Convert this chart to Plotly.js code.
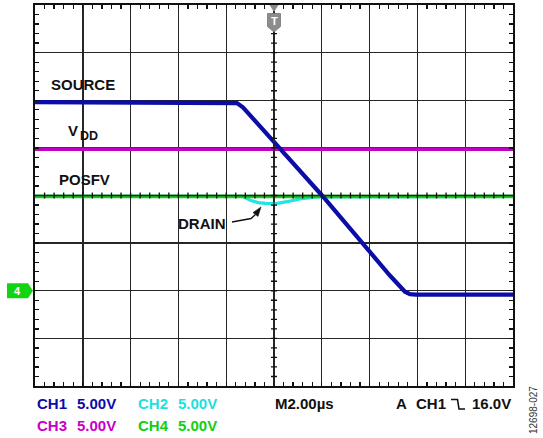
<!DOCTYPE html>
<html><head><meta charset="utf-8">
<script src="https://cdn.plot.ly/plotly-3.0.1.min.js"></script>
<style>html,body{margin:0;padding:0;background:#fff}#chart{width:543px;height:438px}</style>
</head><body><div id="chart"></div>
<script>
// Time in µs (2 µs/div, trigger at 0); vertical position in screen divisions (5 V/div on all channels)
const sourceT = [-10, -1.76, -1.55, -1.30, 2.01, 4.85, 5.27, 5.48, 5.69, 5.94, 10];
const sourceV = [1.96, 1.96, 1.94, 1.85, 0, -1.68, -1.91, -2.02, -2.07, -2.08, -2.08];
const drainT = [-10, -1.30, -1.00, -0.67, -0.25, 0.08, 0.54, 1.09, 1.80, 10];
const drainV = [-0.02, -0.02, -0.10, -0.15, -0.17, -0.17, -0.13, -0.07, -0.03, -0.02];
const vddT = [-10, 10];
const vddV = [0.97, 0.97];
const posfvT = [-10, 10];
const posfvV = [-0.02, -0.02];

const channelNames = ['CH1', 'CH2', 'CH3', 'CH4'];
const channelScales = ['5.00V', '5.00V', '5.00V', '5.00V'];
const channelColors = ['#0c0ca8', '#1ee0e0', '#c800c8', '#10d010'];
const timebaseLabel = 'M2.00µs';
const triggerSource = 'CH1';
const triggerLevel = '16.0V';
const figureId = '12698-027';

// plot-area edges in page pixels
const L = 35, R = 513, T = 5, B = 386;
const W = 543, H = 438;
const px = v => (v - L) / (R - L);
const py = v => (B - v) / (B - T);
// page pixel -> data units (for the hand-drawn arrow)
const toX = p => (p - (L + R) / 2) / ((R - L) / 20);
const toY = p => ((T + B) / 2 - p) / ((B - T) / 8);

const FONT = 'Arial, "Liberation Sans", Helvetica, sans-serif';
const FS = 15;

const traces = [
  {x: drainT, y: drainV, mode: 'lines', line: {color: '#22e4e4', width: 3.2}, hoverinfo: 'skip'},
  {x: posfvT, y: posfvV, mode: 'lines', line: {color: '#10d010', width: 3.6}, hoverinfo: 'skip'},
  {x: vddT, y: vddV, mode: 'lines', line: {color: '#c400c4', width: 3.6}, hoverinfo: 'skip'},
  {x: sourceT, y: sourceV, mode: 'lines', line: {color: '#0c0ca8', width: 4.2}, hoverinfo: 'skip'}
];

const gridCol = '#262626';
const frameAxis = (range, dtick, minor) => ({
  range, dtick, tick0: 0, showgrid: true, gridcolor: gridCol, gridwidth: 1.4,
  showline: true, linecolor: '#111', linewidth: 2.2, mirror: 'ticks',
  ticks: 'inside', ticklen: 4, tickwidth: 1.3, tickcolor: '#111',
  minor: {dtick: minor, ticks: 'inside', ticklen: 4, tickwidth: 1.3, tickcolor: '#111', showgrid: false},
  showticklabels: false, zeroline: false, fixedrange: true
});

const ann = (text, x, y, color, opts) => Object.assign({
  text, x, y, xref: 'paper', yref: 'paper', showarrow: false,
  xanchor: 'left', yanchor: 'middle', font: {family: FONT, size: FS, color}
}, opts || {});

const annotations = [];
// channel scale readouts
const colX = [[35, 75], [136, 176]];
const rowY = [404, 425];
channelNames.forEach((name, i) => {
  const c = colX[i % 2], r = rowY[Math.floor(i / 2)];
  annotations.push(ann('<b>' + name + '</b>', px(c[0]), py(r), channelColors[i]));
  annotations.push(ann('<b>' + channelScales[i] + '</b>', px(c[1]), py(r), channelColors[i]));
});
annotations.push(ann('<b>' + timebaseLabel + '</b>', px(273), py(404), '#111'));
annotations.push(ann('<b>A</b>', px(394), py(404), '#111'));
annotations.push(ann('<b>' + triggerSource + '</b>', px(414), py(404), '#111'));
annotations.push(ann('<b>' + triggerLevel + '</b>', px(513), py(404), '#111', {xanchor: 'right'}));
annotations.push(ann(figureId, px(534), py(410), '#333',
  {xanchor: 'center', textangle: -90, font: {family: FONT, size: 10, color: '#333'}}));

// trace labels inside the graticule
const lab = (text, x, y, size, anchor) => ({text: '<b>' + text + '</b>', x, y, xref: 'x', yref: 'y', showarrow: false,
  xanchor: anchor || 'center', yanchor: 'middle', font: {family: FONT, size: size || FS, color: '#111'}});
annotations.push(lab('SOURCE', -8.0, 2.33));
annotations.push(lab('V', toX(73.3), toY(130.5)));
annotations.push(lab('DD', toX(89.2), toY(135.8), 12.5));
annotations.push(lab('POSFV', -7.95, 0.34));
annotations.push(lab('DRAIN', -3.0, -0.59));
// channel 4 ground marker and trigger marker glyphs
annotations.push(ann('<b>4</b>', px(17.5), -2, '#fff', {xanchor: 'center', yref: 'y', font: {family: FONT, size: 11, color: '#fff'}}));
annotations.push({text: '<b>T</b>', x: 0, y: 3.655, xref: 'x', yref: 'y', showarrow: false,
  xanchor: 'center', yanchor: 'middle', font: {family: FONT, size: 11, color: '#fff'}});

// centre cross-hair: lines drawn above the traces with minor ticks on both sides
let hTicks = '', vTicks = '';
for (let k = -24; k <= 24; k++) { const x = k * 0.4; hTicks += `M ${x},-3 L ${x},3 `; }
for (let k = -19; k <= 19; k++) { const y = k * 0.2; vTicks += `M -3,${y} L 3,${y} `; }

const P = (x, y) => `${toX(x)},${toY(y)}`;
const shapes = [
  {type: 'line', xref: 'x', yref: 'y', x0: -10, x1: 10, y0: 0, y1: 0, layer: 'above', line: {color: gridCol, width: 1.4}},
  {type: 'line', xref: 'x', yref: 'y', x0: 0, x1: 0, y0: -4, y1: 4, layer: 'above', line: {color: gridCol, width: 1.4}},
  {type: 'path', xref: 'x', yref: 'y', ysizemode: 'pixel', yanchor: 0, path: hTicks, layer: 'above', line: {color: '#111', width: 1.3}},
  {type: 'path', xref: 'x', yref: 'y', xsizemode: 'pixel', xanchor: 0, path: vTicks, layer: 'above', line: {color: '#111', width: 1.3}},
  // DRAIN callout arrow
  {type: 'path', xref: 'x', yref: 'y', path: `M ${P(232, 222)} L ${P(251, 218.5)} L ${P(255.5, 214.5)}`,
   line: {color: '#111', width: 1.4}},
  {type: 'path', xref: 'x', yref: 'y', path: `M ${P(261, 207)} L ${P(258, 216.4)} L ${P(253, 212.6)} Z`,
   fillcolor: '#111', line: {color: '#111', width: 0.6}},
  // channel 4 marker
  {type: 'path', xref: 'paper', yref: 'y', xsizemode: 'pixel', ysizemode: 'pixel', xanchor: 0, yanchor: -2,
   path: 'M -28,7.5 L -7,7.5 L -2,0 L -7,-7.5 L -28,-7.5 Z', fillcolor: '#12d412', line: {width: 0}},
  // trigger position marker
  {type: 'path', xref: 'x', yref: 'paper', xsizemode: 'pixel', ysizemode: 'pixel', xanchor: 0, yanchor: 1,
   path: 'M -4.5,0 L 4.5,0 L 0,-7 Z', fillcolor: '#8a8a8a', line: {width: 0}},
  {type: 'path', xref: 'x', yref: 'paper', xsizemode: 'pixel', ysizemode: 'pixel', xanchor: 0, yanchor: 1,
   path: 'M -6.5,-8.5 L 6.5,-8.5 L 6.5,-21.5 L 0,-27 L -6.5,-21.5 Z', fillcolor: '#8c8c8c', line: {color: '#777', width: 0.8}},
  // trigger level edge symbol
  {type: 'path', xref: 'paper', yref: 'paper',
   path: `M ${px(451)},${py(399.5)} L ${px(457.5)},${py(399.5)} L ${px(459)},${py(409)} L ${px(465)},${py(409)}`,
   line: {color: '#111', width: 1.6}}
];

const layout = {
  width: W, height: H, margin: {l: L, r: W - R, t: T, b: H - B, pad: 0},
  paper_bgcolor: '#fff', plot_bgcolor: '#fff', showlegend: false,
  xaxis: frameAxis([-10, 10], 2, 0.4),
  yaxis: frameAxis([-4, 4], 1, 0.2),
  annotations, shapes
};

Plotly.newPlot('chart', traces, layout, {staticPlot: true, displayModeBar: false});
</script></body></html>
